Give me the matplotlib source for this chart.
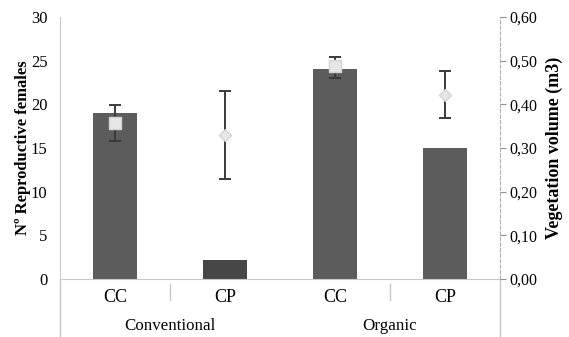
import matplotlib
matplotlib.use("Agg")
import matplotlib.pyplot as plt
from matplotlib.lines import Line2D

# Data
systems = ["Conventional", "Organic"]
treatments = ["CC", "CP", "CC", "CP"]
females = [19.0, 2.2, 24.0, 15.0]              # bars, left axis
volume = [0.357, 0.330, 0.487, 0.421]          # markers, right axis
volume_lo = [0.315, 0.229, 0.460, 0.368]
volume_hi = [0.398, 0.430, 0.508, 0.476]
marker_shapes = ["s", "D", "s", "D"]
left_ticks = [0, 5, 10, 15, 20, 25, 30]
right_ticks = [0.0, 0.1, 0.2, 0.3, 0.4, 0.5, 0.6]

plt.rcParams["font.family"] = ["Liberation Serif", "DejaVu Serif"]

fig = plt.figure(figsize=(5.69, 3.37), dpi=100)
ax = fig.add_axes([60 / 569, 1 - 279 / 337, 440 / 569, 262 / 337])
ax2 = ax.twinx()

x = list(range(len(treatments)))
bar_colors = ["#5c5c5c", "#474747", "#5c5c5c", "#5c5c5c"]
ax.bar(x, females, width=0.4, color=bar_colors, zorder=2)

ax.set_xlim(-0.5, 3.5)
ax.set_ylim(0, 30)
ax2.set_ylim(0, 0.6)

for xi, v, lo, hi, m in zip(x, volume, volume_lo, volume_hi, marker_shapes):
    ax2.errorbar([xi], [v], yerr=[[v - lo], [hi - v]], fmt="none",
                 ecolor="#3a3a3a", elinewidth=1.4, capsize=4, capthick=1.4, zorder=3)
    ax2.plot([xi], [v], marker=m, markersize=8 if m == "s" else 6.5,
             markerfacecolor="#e6e6e6", markeredgecolor="#d4d4d4",
             linestyle="none", zorder=4)

# Spines
for a in (ax, ax2):
    a.spines["top"].set_visible(False)
ax.spines["left"].set_color("#c8c8c8")
ax.spines["bottom"].set_color("#c8c8c8")
ax.spines["right"].set_visible(False)
ax2.spines["left"].set_visible(False)
ax2.spines["bottom"].set_visible(False)
ax2.spines["right"].set_color("#b0b0b0")
ax2.spines["right"].set_linestyle((0, (3, 2)))
ax2.spines["right"].set_linewidth(0.8)

# Left ticks
ax.set_yticks(left_ticks)
ax.set_yticklabels([str(t) for t in left_ticks], fontsize=12)
ax.tick_params(axis="y", length=0, pad=9)

# Right ticks
ax2.set_yticks(right_ticks)
ax2.set_yticklabels([f"{t:.2f}".replace(".", ",") for t in right_ticks], fontsize=11.5)
ax2.tick_params(axis="y", length=4, width=0.8, color="#909090", pad=3)

# Category labels
ax.set_xticks(x)
ax.set_xticklabels(treatments, fontsize=13)
ax.tick_params(axis="x", length=0, pad=7)

ax.set_ylabel("Nº Reproductive females", fontsize=12, fontweight="bold", labelpad=0)
ax2.set_ylabel("Vegetation volume (m3)", fontsize=13, fontweight="bold", labelpad=6)

# Group labels and separators below the axis
for gi, name in enumerate(systems):
    ax.text(gi * 2 + 0.5, -0.18, name, transform=ax.get_xaxis_transform(),
            ha="center", va="center", fontsize=12.2)
for sx in (0.5, 2.5):
    ax.add_line(Line2D([sx, sx], [-0.02, -0.08], transform=ax.get_xaxis_transform(),
                       color="#c8c8c8", lw=1.0, clip_on=False))
for sx in (-0.5, 3.5):
    ax.add_line(Line2D([sx, sx], [0, -0.25], transform=ax.get_xaxis_transform(),
                       color="#c8c8c8", lw=1.0, clip_on=False))

fig.savefig("out.png", dpi=100)
